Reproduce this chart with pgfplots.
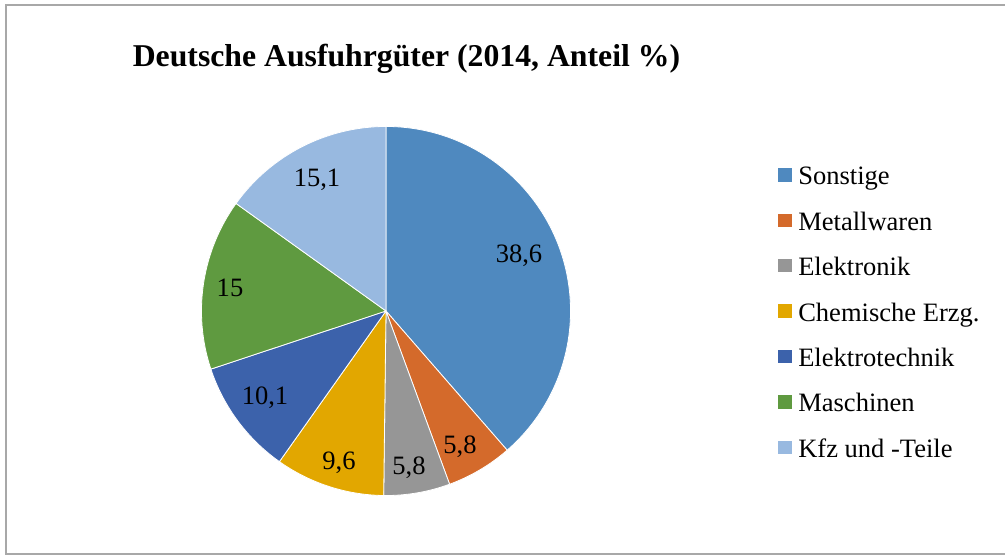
\documentclass[border=0pt]{standalone}
\usepackage{pgfplots}
\pgfplotsset{compat=1.18}
\usepackage{pgfplotstable}
\usepackage{fontspec}
\setmainfont{Liberation Serif}
\definecolor{cA}{HTML}{4F89BF}
\definecolor{cB}{HTML}{D46A2B}
\definecolor{cC}{HTML}{969696}
\definecolor{cD}{HTML}{E2A700}
\definecolor{cE}{HTML}{3C62AB}
\definecolor{cF}{HTML}{5F9A40}
\definecolor{cG}{HTML}{98B9E0}
\definecolor{frame}{HTML}{A8A8A8}
\newcommand\lblfont{\fontsize{19.9}{24}\selectfont}
% lx, ly: label baseline position in picture pixels (y measured from top)
\pgfplotstableread[col sep=comma]{
name,value,col,lx,ly
Sonstige,38.6,cA,519,263
Metallwaren,5.8,cB,460,453
Elektronik,5.8,cC,409,475
Chemische Erzg.,9.6,cD,339,470
Elektrotechnik,10.1,cE,265,405
Maschinen,15,cF,230,297
Kfz und -Teile,15.1,cG,317,187
}\piedata
\begin{document}
\begin{tikzpicture}
\begin{axis}[x=0.75pt,y=0.75pt,xmin=0,xmax=1005,ymin=0,ymax=556,hide axis,clip=false]
\coordinate (bl) at (axis cs:0,0);
\coordinate (tr) at (axis cs:1005,556);
\draw[color=frame, line width=1.1pt] (axis cs:1010,551) -- (axis cs:6,551) -- (axis cs:6,2) -- (axis cs:1010,2);
\node[anchor=base, font=\fontsize{23.8}{28}\selectfont\bfseries] at (axis cs:406.5,489) {Deutsche Ausfuhrgüter (2014, Anteil \%)};
\def\cum{0}
\pgfplotsforeachungrouped \i in {0,...,6}{%
 \pgfplotstablegetelem{\i}{value}\of\piedata \let\myval\pgfplotsretval
 \pgfplotstablegetelem{\i}{col}\of\piedata \let\mycol\pgfplotsretval
 \pgfplotstablegetelem{\i}{name}\of\piedata \let\myname\pgfplotsretval
 \pgfplotstablegetelem{\i}{lx}\of\piedata \let\mylx\pgfplotsretval
 \pgfplotstablegetelem{\i}{ly}\of\piedata \let\myly\pgfplotsretval
 \pgfmathsetmacro\astart{90-3.6*\cum}
 \pgfmathsetmacro\aend{90-3.6*(\cum+\myval)}
 \pgfmathsetmacro\cum{\cum+\myval}
 \pgfmathsetmacro\lyy{556-\myly}
 \pgfmathsetmacro\sqlo{556-(175+45.4*\i)-6.7}
 \pgfmathsetmacro\sqhi{556-(175+45.4*\i)+6.7}
 \pgfmathsetmacro\legy{556-(185+45.4*\i)}
 \edef\temp{%
 \noexpand\fill[\mycol, draw=white, line width=0.6pt, line join=round] (axis cs:386,245) -- ([shift={(\astart:138.4pt)}]axis cs:386,245) arc[start angle=\astart, end angle=\aend, radius=138.4pt] -- cycle;
 \noexpand\node[anchor=base, font=\noexpand\lblfont] at (axis cs:\mylx,\lyy) {\noexpand\pgfmathprintnumber[use comma, assume math mode=true]{\myval}};
 \noexpand\fill[\mycol] (axis cs:778.3,\sqlo) rectangle (axis cs:791.7,\sqhi);
 \noexpand\node[anchor=base west, inner sep=0pt, font=\noexpand\lblfont] at (axis cs:798,\legy) {\myname};
 }%
 \temp
}
\end{axis}
\pgfresetboundingbox
\path (bl) rectangle (tr);
\end{tikzpicture}
\end{document}
